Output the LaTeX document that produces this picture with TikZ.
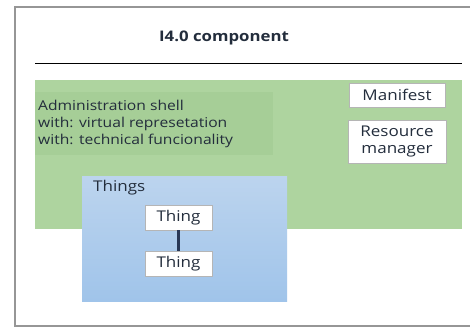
\documentclass[tikz,border=0pt]{standalone}
\usepackage{fontspec}
\setmainfont{Open Sans}[FakeStretch=1.15]
\usetikzlibrary{positioning}
\definecolor{panelgreen}{RGB}{174,212,159}
\definecolor{shellgreen}{RGB}{166,206,151}
\definecolor{thingstop}{RGB}{188,212,238}
\definecolor{thingsbot}{RGB}{160,196,234}
\definecolor{framegray}{RGB}{150,150,150}
\definecolor{navyline}{RGB}{40,55,85}
\definecolor{labeltext}{RGB}{35,45,60}

\begin{document}
\begin{tikzpicture}[x=1pt,y=-1pt]
\tikzstyle{panel} = [anchor=north west, inner sep=0pt, outer sep=0pt]
\tikzstyle{wbox} = [draw=framegray!70, fill=white, inner sep=1pt, align=center, font=\fontsize{14.8}{17}\selectfont, text=labeltext]
\tikzstyle{txt} = [inner sep=0pt, align=left, font=\fontsize{13.6}{17}\selectfont, text=labeltext]

\useasboundingbox (0,0) rectangle (470,329);
\fill[white] (0,0) rectangle (470,329);
% outer frame
\draw[framegray, line width=1.2pt] (472,7) -| (15,326) -- (472,326);

\node [txt, font=\bfseries\fontsize{14.6}{17}\selectfont] (title) at (224,38) {I4.0 component};
\draw [line width=1pt] (35,63) -- (462,63);

\node [panel, fill=panelgreen, minimum width=427pt, minimum height=149pt] (comp) at (35,80) {};
\node [panel, fill=shellgreen, minimum width=238pt, minimum height=63pt] (shell) at (35,92) {};
\node [txt, anchor=north west] (shelltext) at (38,100) {Administration shell\\with: virtual represetation\\with: technical funcionality};

\node [wbox, minimum width=96pt, minimum height=24pt] (manifest) at (397,95) {Manifest};
\node [wbox, minimum width=98pt, minimum height=43pt, below=13pt of manifest.south, anchor=north] (resmgr) {Resource\\manager};

\node [panel, top color=thingstop, bottom color=thingsbot, minimum width=205pt, minimum height=125pt] (things) at (82,176) {};
\node [txt, anchor=west, font=\fontsize{14.8}{17}\selectfont] (thingslabel) at (93,188) {Things};
\node [wbox, minimum width=67pt, minimum height=25pt] (thing1) at (178.5,217.5) {Thing};
\node [wbox, minimum width=67pt, minimum height=25pt, below=21pt of thing1] (thing2) {Thing};
\draw [navyline, line width=2.5pt] (thing1) -- (thing2);
\end{tikzpicture}
\end{document}
